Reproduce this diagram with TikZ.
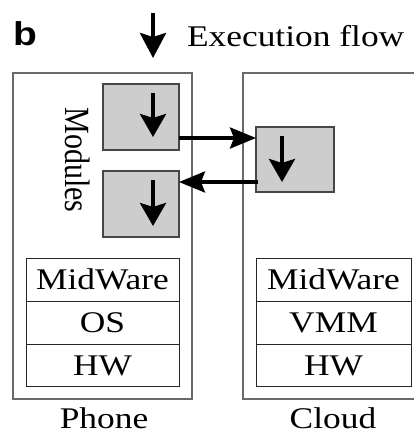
\documentclass[tikz,border=0pt]{standalone}
\usepackage{fontspec}
\setmainfont{Liberation Serif}
\newfontfamily\panelfont{Liberation Sans}
\usetikzlibrary{arrows.meta,calc}
% text in this figure is set slightly wider than normal
\newcommand\widen[1]{\scalebox{1.18}[1]{#1}}
\newcommand\widenrot[1]{\scalebox{1}[1.18]{#1}}
\definecolor{framegray}{RGB}{105,105,105}
\definecolor{modfill}{RGB}{205,205,205}
\definecolor{modline}{RGB}{70,70,70}
\begin{document}
\begin{tikzpicture}[x=1pt,y=-1pt,
  txt/.style={font=\fontsize{30}{32}\selectfont, inner sep=0pt, outer sep=0pt},
  frame/.style={draw=framegray, line width=1.3pt},
  module/.style={draw=modline, fill=modfill, line width=1.2pt, inner sep=0pt,
    outer sep=0pt, minimum width=76pt, minimum height=66pt, anchor=north west},
  layer/.style={txt, draw=black!85, line width=1pt, minimum height=43.3pt,
    anchor=north west},
  vflow/.style={line width=4pt, -{Stealth[length=25pt,width=26pt,inset=4pt]}},
  iflow/.style={line width=4pt, -{Stealth[length=23pt,width=26pt,inset=4pt]}},
  hflow/.style={line width=3.5pt, -{Stealth[length=26pt,width=21pt,inset=4pt]}}]
\useasboundingbox (0,0) rectangle (414,434);
\clip (0,0) rectangle (414,434);

% panel letter and legend
\node[font=\panelfont\bfseries\fontsize{33}{34}\selectfont, anchor=base west,
  inner sep=0pt] (panel) at (13,45) {\widen{b}};
\coordinate (legtop) at (153,13);
\coordinate (legtip) at (153,58);
\draw[vflow] (legtop) -- (legtip);
\node[txt, anchor=base west] (legend) at (187,46.5) {\widen{Execution flow}};

% device frames
\node[frame, inner sep=0pt, outer sep=0pt, minimum width=179pt, minimum height=326pt,
  anchor=north west] (phone) at (13,73) {};
\draw[frame] (430,73) -- (243,73) -- (243,399) -- (430,399);
\coordinate (cloudframe) at (243,73);

% code modules
\node[module] (m1) at (103,84) {};
\node[module] (m2) at (103,171) {};
\node[module, minimum width=78pt, minimum height=65pt] (c1) at (256,127) {};
\node[txt, rotate=-90, anchor=base] (modlabel) at (65,160) {\widenrot{Modules}};

% execution inside each module
\draw[iflow] ([xshift=12pt,yshift=-9pt]m1.north) -- ([xshift=12pt,yshift=13pt]m1.south);
\draw[iflow] ([xshift=12pt,yshift=-9pt]m2.north) -- ([xshift=12pt,yshift=11pt]m2.south);
\draw[iflow] ([xshift=-13pt,yshift=-9pt]c1.north) -- ([xshift=-13pt,yshift=10pt]c1.south);

% offloading to the cloud and back
\draw[hflow] ([yshift=-21pt]m1.east) coordinate (out) -- (out -| c1.west);
\draw[hflow] ([yshift=-22.5pt,xshift=2pt]c1.west) coordinate (back) -- (back -| m2.east);

% software stacks
\node[layer, minimum width=153pt] (pmid) at (26,258) {\widen{MidWare}};
\node[layer, minimum width=153pt] (pos)  at (26,301.3) {\widen{OS}};
\node[layer, minimum width=153pt, minimum height=42pt] (phw) at (26,344.6) {\widen{HW}};
\node[layer, minimum width=155pt] (cmid) at (256,258) {\widen{MidWare}};
\node[layer, minimum width=155pt] (cvmm) at (256,301.3) {\widen{VMM}};
\node[layer, minimum width=155pt, minimum height=42pt] (chw) at (256,344.6) {\widen{HW}};

% captions
\node[txt, anchor=base] (phonelabel) at (104,428) {\widen{Phone}};
\node[txt, anchor=base] (cloudlabel) at (333,428) {\widen{Cloud}};
\end{tikzpicture}
\end{document}
